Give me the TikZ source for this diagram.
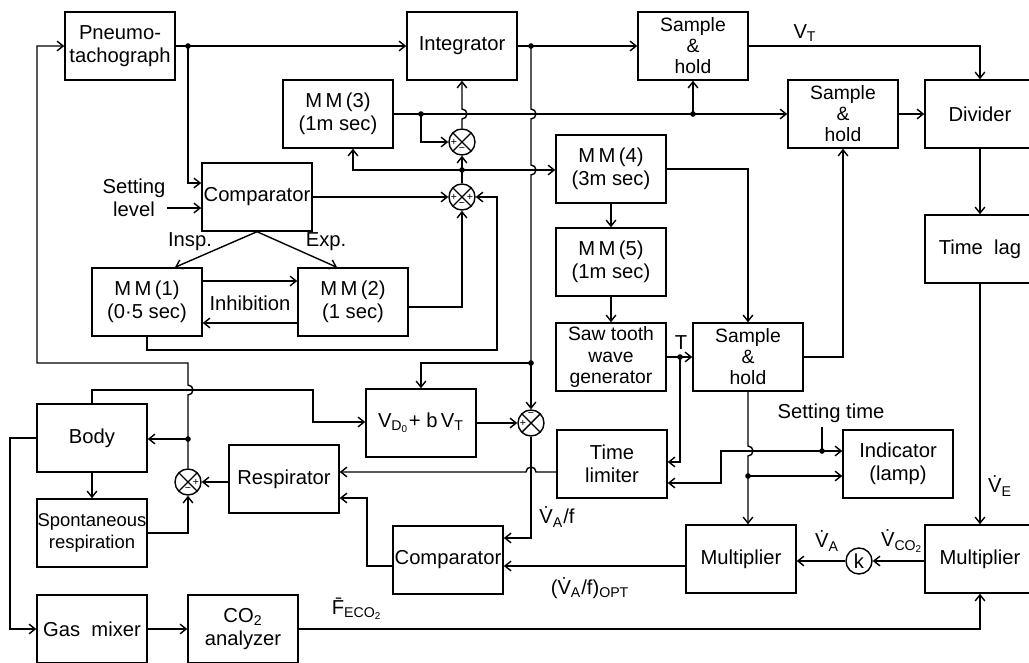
\documentclass[tikz,border=0pt]{standalone}
\usepackage{amsmath}
\usepackage{fontspec}
\setmainfont{Liberation Sans}
\usetikzlibrary{arrows.meta, positioning}
\newcommand{\Vd}{V^^^^0307}

\begin{document}
\begin{tikzpicture}[
  x=0.02cm, y=-0.02cm, line width=0.8pt,
  blk/.style={draw, minimum width=2.2cm, minimum height=1.36cm, align=center, inner sep=1pt, font=\fontsize{11.5}{13}\selectfont},
  sh/.style={blk, font=\fontsize{11}{12}\selectfont},
  sum/.style={draw, circle, minimum size=0.52cm, inner sep=0pt,
    path picture={\draw (path picture bounding box.north west) -- (path picture bounding box.south east)
      (path picture bounding box.north east) -- (path picture bounding box.south west);}},
  wire/.style={-{Straight Barb[length=3.5pt,width=5.5pt]}},
  lab/.style={font=\fontsize{11.5}{13}\selectfont, inner sep=1pt},
  sgn/.style={font=\fontsize{6}{6}\selectfont, inner sep=0pt}
]
\useasboundingbox (0,0) rectangle (1029,663);

% blocks
\node[blk] (Pneumo) at (120,46) {Pneumo-\\tachograph};
\node[blk] (Integ) at (462,46) {Integrator};
\node[sh] (SH1) at (693,46) {Sample\\\&\\hold};
\node[blk] (MM3) at (338,114) {M\,M\,(3)\\(1m sec)};
\node[sh] (SH2) at (843,114) {Sample\\\&\\hold};
\node[blk] (Div) at (980,114) {Divider};
\node[blk] (Comp1) at (257,197) {Comparator};
\node[blk] (MM4) at (611,169) {M\,M\,(4)\\(3m sec)};
\node[blk] (MM5) at (611,262) {M\,M\,(5)\\(1m sec)};
\node[blk] (MM1) at (147,302) {M\,M\,(1)\\(0·5 sec)};
\node[blk] (MM2) at (353,302) {M\,M\,(2)\\(1 sec)};
\node[blk] (Lag) at (980,249) {Time~~lag};
\node[sh] (Saw) at (611,357) {Saw tooth\\wave\\generator};
\node[sh] (SH3) at (748,357) {Sample\\\&\\hold};
\node[blk] (Body) at (92,438) {Body};
\node[blk] (VD) at (421,423) {V\textsubscript{D\textsubscript{0}}+ b\,V\textsubscript{T}};
\node[blk] (Resp) at (284,479) {Respirator};
\node[blk] (TLim) at (612,464) {Time\\limiter};
\node[blk] (Ind) at (898,464) {Indicator\\(lamp)};
\node[blk, font=\fontsize{10.5}{12.5}\selectfont, inner sep=0pt] (Spont) at (92,533) {Spontaneous\\respiration};
\node[blk] (Comp2) at (448,560) {Comparator};
\node[blk] (Mul1) at (741,559) {Multiplier};
\node[blk] (Mul2) at (980,559) {Multiplier};
\node[blk] (Gas) at (92,629) {Gas~~mixer};
\node[blk] (CO2) at (243,629) {CO\textsubscript{2}\\analyzer};

% summing points
\node[sum] (S1) at (462,142) {};
\node[sum] (S2) at (462,197) {};
\node[sum] (S3) at (531,423) {};
\node[sum] (S4) at (188,482) {};
\node[draw, circle, minimum size=0.52cm, inner sep=0pt, font=\fontsize{11.5}{13}\selectfont] (K) at (859,561) {k};
\node[sgn] at ([xshift=-0.16cm]S1.center) {+};
\node[sgn] at ([yshift=-0.16cm]S1.center) {−};
\node[sgn] at ([xshift=-0.16cm]S2.center) {+};
\node[sgn] at ([xshift=0.16cm]S2.center) {+};
\node[sgn] at ([yshift=-0.16cm]S2.center) {−};
\node[sgn] at ([yshift=0.16cm]S3.center) {−};
\node[sgn] at ([xshift=-0.16cm]S3.center) {+};
\node[sgn] at ([xshift=0.16cm]S4.center) {+};
\node[sgn] at ([yshift=-0.16cm]S4.center) {−};

% junctions
\coordinate (jP) at (188,46);
\coordinate (jM3) at (421,114);
\coordinate (jS) at (693,114);
\coordinate (j170) at (462,170);
\coordinate (jI) at (531,46);
\coordinate (jV) at (531,363);
\coordinate (jT) at (680,357);
\coordinate (jA) at (748,476);
\coordinate (jST) at (822,451);
\coordinate (jB) at (188,439);
\coordinate (lvl) at (167,208);
\coordinate (st) at (822,427);

% labels
\node[lab, align=center] (SetLvl) at (134,198) {Setting\\level};
\node[lab] (lInsp) at (190,242) {Insp.};
\node[lab] (lExp) at (326,242) {Exp.};
\node[lab] (lInh) at (250,303) {Inhibition};
\node[lab] (lVT) at (805,33) {V\textsubscript{T}};
\node[lab] (lVE) at (1000,486) {\Vd\textsubscript{E}};
\node[lab] (lT) at (681,343) {T};
\node[lab] (lST) at (831,413) {Setting time};
\node[lab] (lVAf) at (557,517) {\Vd\textsubscript{A}/f};
\node[lab] (lOpt) at (590,588) {(\Vd\textsubscript{A}/f)\textsubscript{OPT}};
\node[lab] (lVA) at (827,541) {\Vd\textsubscript{A}};
\node[lab] (lVCO2) at (902,541) {\Vd\textsubscript{CO\textsubscript{2}}};
\node[lab] (lF) at (357,609) {F^^^^0304\textsubscript{ECO\textsubscript{2}}};

% upper part
\draw[wire] (Pneumo) -- (Integ);
\draw[wire] (Integ) -- (SH1);
\draw[wire] (jP) |- (Comp1.west |- 0,183);
\draw[wire] (lvl) -- (Comp1.west |- lvl);
\draw[wire] (MM3) -- (SH2);
\draw[wire] (jM3) |- (S1.west);
\draw[wire] (jS) -- (SH1.south);
\draw[wire] (S1.north) -- (462,119) arc[start angle=-90, end angle=90, radius=0.1cm] -- (Integ.south);
\draw[wire] (S2.north) -- (S1.south);
\draw[wire] (j170) -| ([xshift=0.3cm]MM3.south);
\draw[wire] (j170) -- (MM4.west |- j170);
\draw (jI) -- (531,109) arc[start angle=90, end angle=-90, radius=0.1cm]
  -- (531,165) arc[start angle=90, end angle=-90, radius=0.1cm] -- (jV);
\draw[wire] (jV) -- (S3.north);
\draw[wire] (jV) -| (VD.north);
\draw[wire] (Comp1) -- (S2);
\draw[wire] (Comp1.south) -- ([xshift=0.56cm]MM1.north);
\draw[wire] (Comp1.south) -- ([xshift=-0.32cm]MM2.north);
\draw[wire] (MM1.east |- 0,281) -- (MM2.west |- 0,281);
\draw[wire] (MM2.west |- 0,323) -- (MM1.east |- 0,323);
\draw[wire] (MM1.south) |- (497,350) |- (S2.east);
\draw[wire] (MM2.east |- 0,307) -| (S2.south);

% right part
\draw[wire] (SH1.east) -| (Div.north);
\draw[wire] (SH2) -- (Div);
\draw[wire] (Div) -- (Lag);
\draw[wire] (Lag) -- (Mul2);
\draw[wire] (MM4) -- (MM5);
\draw[wire] (MM5) -- (Saw);
\draw[wire] (MM4.east) -| (SH3.north);
\draw[wire] (Saw) -- (SH3);
\draw[wire] (jT) |- (TLim.east |- 0,462);
\draw[wire] (SH3.east) -| (SH2.south);
\draw[wire] (SH3.south) -- (748,446) arc[start angle=90, end angle=-90, radius=0.1cm] -- (SH3.south |- Mul1.north);
\draw[wire] (jA) -- (Ind.west |- jA);
\draw (st) -- (jST);
\draw[wire] (jST) -- (Ind.west |- jST);
\draw[wire] (jST) -- (721,451) |- (TLim.east |- 0,483);

% lower part
\draw[wire] (TLim.west |- 0,472) -- (536,472) arc[start angle=0, end angle=180, radius=0.1cm] -- (Resp.east |- 0,472);
\draw[wire] (S3.south) |- (Comp2.east |- 0,538);
\draw[wire] (VD) -- (S3);
\draw[wire] (Comp2.west |- 0,566) -| (367,498) -- (Resp.east |- 0,498);
\draw[wire] (Resp.west |- S4) -- (S4.east);
\draw[wire] (Spont.east) -| (S4.south);
\draw[wire] (jB) -- (Body.east |- jB);
\draw[wire] (S4.north) -- (188,395) arc[start angle=-90, end angle=90, radius=0.1cm] -- (188,363) -| (37,46) -- (Pneumo.west);
\draw[wire] (Body.north) |- (313,390) |- (VD.west |- 0,422);
\draw[wire] (Body) -- (Spont);
\draw[wire] (Body.west) -- (10,438) |- (Gas.west);
\draw[wire] (Gas) -- (CO2);
\draw[wire] (CO2.east) -| (Mul2.south);
\draw[wire] (Mul2.west |- K) -- (K);
\draw[wire] (K) -- (Mul1.east |- K);
\draw[wire] (Mul1.west |- 0,566) -- (Comp2.east |- 0,566);

\foreach \c in {jP,jM3,jS,j170,jI,jV,jT,jA,jST,jB} \fill (\c) circle (1.6pt);
\end{tikzpicture}
\end{document}
